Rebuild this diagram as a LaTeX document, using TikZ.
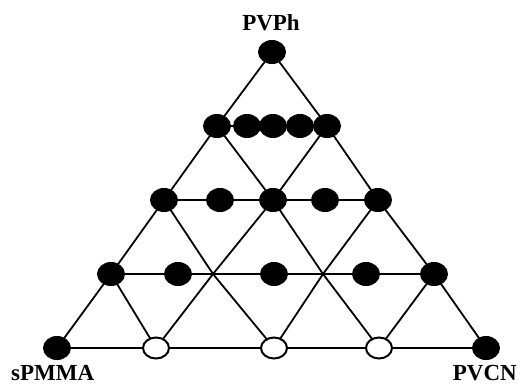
\documentclass[tikz,border=0pt]{standalone}
\usepackage{fontspec}
\setmainfont{Liberation Serif}
\usetikzlibrary{shapes.geometric,backgrounds}
\tikzset{
  full/.style={ellipse,fill=black,minimum width=28pt,minimum height=24pt,inner sep=0pt},
  open/.style={ellipse,draw=black,fill=white,line width=2pt,minimum width=26pt,minimum height=21pt,inner sep=0pt},
  grid/.style={line width=1.8pt,line cap=round},
  lab/.style={inner sep=0pt,font=\fontsize{23}{23}\selectfont\bfseries}
}
\begin{document}
\begin{tikzpicture}[x=1pt,y=-1pt]
\useasboundingbox (0,0) rectangle (521,386);
% lattice points
\node[full] (T) at (272,52) {};
\node[full] (L1) at (217,126) {};
\node[full] (a1) at (247,126) {};
\node[full] (a2) at (273,126) {};
\node[full] (a3) at (300,126) {};
\node[full] (R1) at (327,126) {};
\node[full] (L2) at (164,200) {};
\node[full] (b1) at (220,200) {};
\node[full] (M2) at (273,200) {};
\node[full] (b2) at (325,200) {};
\node[full] (R2) at (378,200) {};
\node[full] (L3) at (111,274) {};
\node[full] (c1) at (178,274) {};
\coordinate (X1) at (213,274);
\node[full] (c2) at (274,274) {};
\coordinate (X2) at (323,274);
\node[full] (c3) at (366,274) {};
\node[full] (R3) at (434,274) {};
\node[full] (A) at (57,348) {};
\node[open] (B1) at (156,348) {};
\node[open] (B2) at (274,348) {};
\node[open] (B3) at (379,348) {};
\node[full] (C) at (486,348) {};
\begin{scope}[on background layer]
\draw[grid] (T.center) -- (L1.center) -- (L2.center) -- (L3.center) -- (A.center) -- (C.center) -- (R3.center) -- (R2.center) -- (R1.center) -- (T.center);
\draw[grid] (L1.center) -- (R1.center);
\draw[grid] (L2.center) -- (R2.center);
\draw[grid] (L3.center) -- (R3.center);
\draw[grid] (L1.center) -- (M2.center) -- (X2) -- (B3.center);
\draw[grid] (L2.center) -- (X1) -- (B2.center);
\draw[grid] (L3.center) -- (B1.center);
\draw[grid] (R1.center) -- (M2.center) -- (X1) -- (B1.center);
\draw[grid] (R2.center) -- (X2) -- (B2.center);
\draw[grid] (R3.center) -- (B3.center);
\end{scope}
\node[lab,anchor=base] (tPVPh) at (271,30) {PVPh};
\node[lab,anchor=base west] (tsPMMA) at (11,380) {sPMMA};
\node[lab,anchor=base east] (tPVCN) at (517,380) {PVCN};
\end{tikzpicture}
\end{document}
